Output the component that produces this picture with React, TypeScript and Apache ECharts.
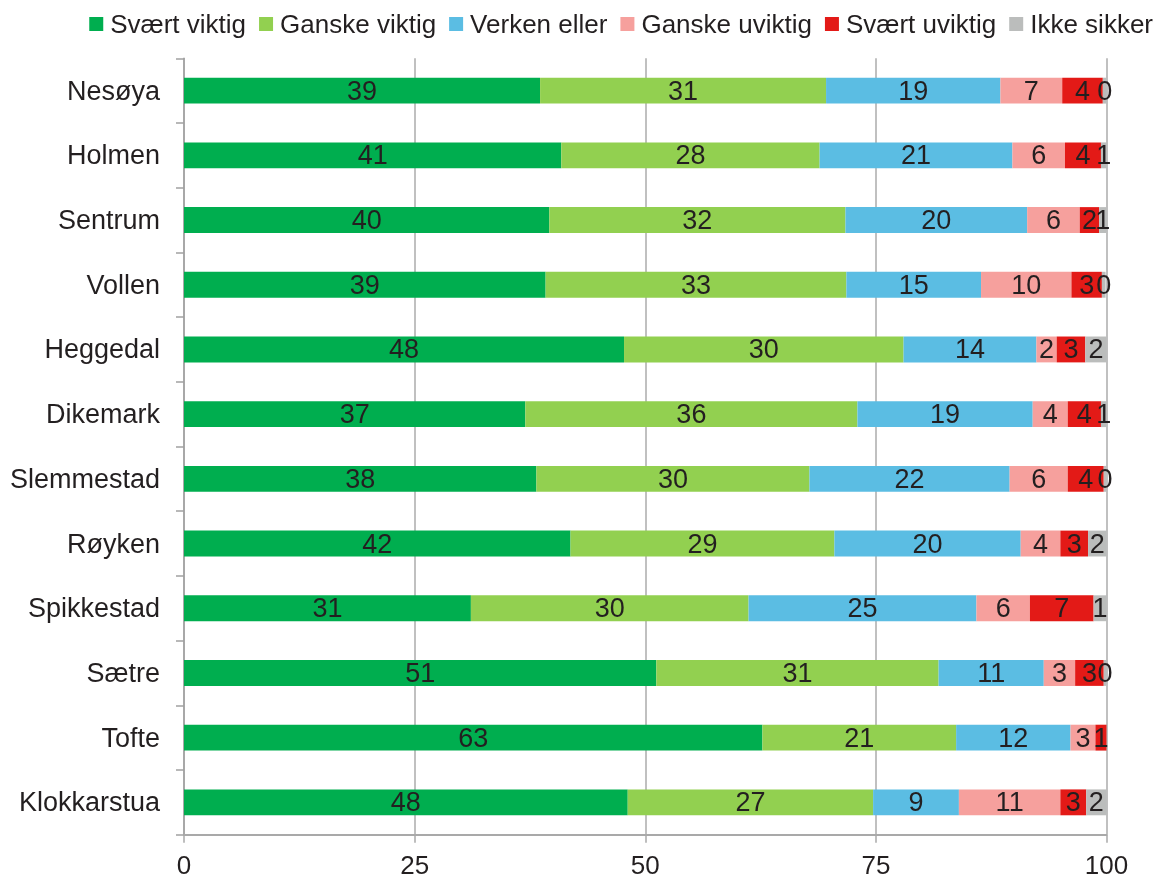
import React, { useEffect, useRef } from "react";
import * as echarts from "echarts";

const categories = [
  "Nesøya",
  "Holmen",
  "Sentrum",
  "Vollen",
  "Heggedal",
  "Dikemark",
  "Slemmestad",
  "Røyken",
  "Spikkestad",
  "Sætre",
  "Tofte",
  "Klokkarstua",
];

const seriesNames = [
  "Svært viktig",
  "Ganske viktig",
  "Verken eller",
  "Ganske uviktig",
  "Svært uviktig",
  "Ikke sikker",
];

const svaertViktig = [38.6, 40.9, 39.6, 39.2, 47.7, 37.0, 38.2, 41.9, 31.1, 51.2, 62.7, 48.1];
const ganskeViktig = [31.0, 28.0, 32.1, 32.6, 30.3, 36.0, 29.6, 28.6, 30.1, 30.6, 21.0, 26.6];
const verkenEller = [18.9, 20.9, 19.7, 14.6, 14.4, 19.0, 21.7, 20.2, 24.7, 11.4, 12.4, 9.3];
const ganskeUviktig = [6.7, 5.7, 5.7, 9.8, 2.2, 3.8, 6.3, 4.3, 5.8, 3.4, 2.7, 11.0];
const svaertUviktig = [4.4, 3.9, 2.1, 3.3, 3.1, 3.6, 3.9, 3.0, 6.9, 3.1, 1.2, 2.8];
const ikkeSikker: (number | string)[] = [0.4, 0.6, 0.8, 0.4, 2.3, 0.6, 0.3, 2.0, 1.4, 0.3, "-", 2.2];

const xTicks = { min: 0, max: 100, interval: 25 };

const colors = ["#00AE4F", "#92D050", "#5BBDE3", "#F6A09D", "#E31A17", "#BBBDBC"];

const seriesData = [svaertViktig, ganskeViktig, verkenEller, ganskeUviktig, svaertUviktig, ikkeSikker];

const TEXT = "#231F20";
const FONT = "'Liberation Sans', Arial, Helvetica, sans-serif";

export default function App() {
  const ref = useRef<HTMLDivElement>(null);

  useEffect(() => {
    if (!ref.current) return;
    const chart = echarts.init(ref.current, undefined, { renderer: "svg" });
    chart.setOption({
      animation: false,
      textStyle: { fontFamily: FONT },
      color: colors,
      legend: {
        top: 11,
        right: 8,
        padding: 0,
        itemWidth: 14,
        itemHeight: 14,
        itemGap: 13,
        icon: "rect",
        textStyle: { fontSize: 26, color: TEXT, fontFamily: FONT, padding: [0, 0, 0, 2] },
        data: seriesNames,
      },
      grid: {
        left: 184,
        right: 54.5,
        top: 58.3,
        bottom: 44.3,
        containLabel: false,
      },
      xAxis: {
        type: "value",
        min: xTicks.min,
        max: xTicks.max,
        interval: xTicks.interval,
        axisLine: { show: true, lineStyle: { color: "#A9A9A9", width: 2 } },
        axisTick: { show: true, length: 8, lineStyle: { color: "#A9A9A9", width: 1.5 } },
        splitLine: { show: true, lineStyle: { color: "#ABABAB", width: 1.5 } },
        axisLabel: { fontSize: 26, color: TEXT, margin: 17, fontFamily: FONT },
      },
      yAxis: {
        type: "category",
        inverse: true,
        data: categories,
        axisLine: { show: true, lineStyle: { color: "#A0A0A0", width: 1.5 } },
        axisTick: { show: true, length: 8, lineStyle: { color: "#A0A0A0", width: 1.5 } },
        axisLabel: { fontSize: 27, color: TEXT, margin: 24, fontFamily: FONT },
      },
      series: seriesNames.map((name, i) => ({
        name,
        type: "bar",
        stack: "total",
        barWidth: "40%",
        data: seriesData[i],
        itemStyle: { color: colors[i] },
        label: {
          show: true,
          position: "inside",
          fontSize: 27,
          color: TEXT,
          fontFamily: FONT,
          formatter: (p: any) =>
            typeof p.value === "number" ? String(Math.round(p.value)) : "",
        },
      })),
    });
    return () => chart.dispose();
  }, []);

  return (
    <div
      ref={ref}
      style={{ position: "fixed", left: 0, top: 0, width: 1161, height: 879 }}
    />
  );
}
